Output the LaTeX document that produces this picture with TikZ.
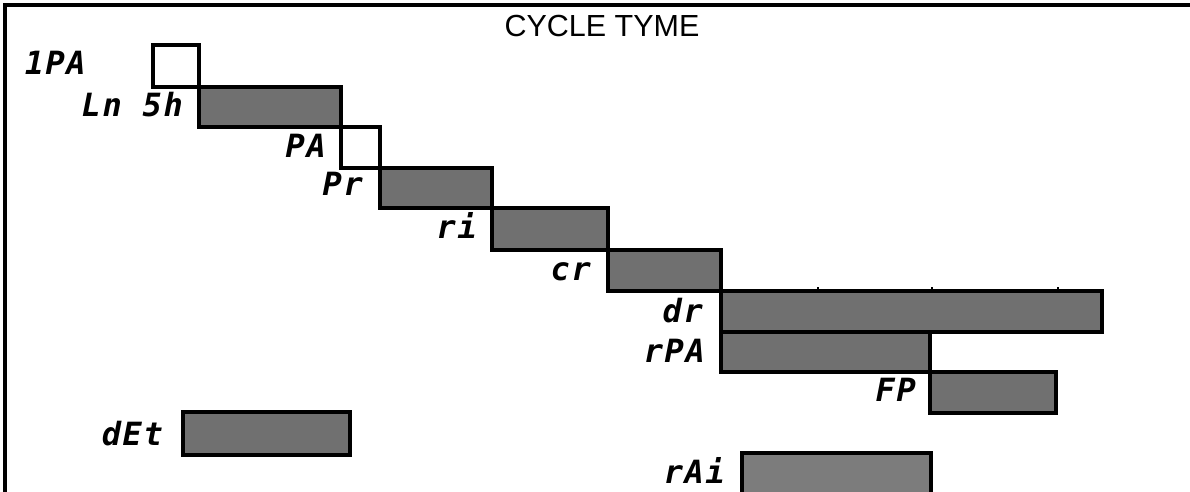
\documentclass[tikz,border=0pt]{standalone}
\usepackage{fontspec}
\setmainfont{Liberation Sans}
\newfontfamily\segfont[LetterSpace=5]{DejaVu Sans Mono}
\begin{document}
\begin{tikzpicture}[x=1pt,y=-1pt,
  frame/.style={line width=4.5pt,line cap=rect},
  barline/.style={line width=4pt,line join=miter},
  openbar/.style={barline,fill=white},
  fullbar/.style={barline,fill=barfill},
  seglabel/.style={anchor=base east,inner sep=0pt,font=\segfont\bfseries\itshape\fontsize{32}{32}\selectfont},
  titlelabel/.style={anchor=base,inner sep=0pt,font=\fontsize{30.5}{30.5}\selectfont}]
\definecolor{barfill}{HTML}{707070}
\definecolor{barfilltwo}{HTML}{7C7C7C}
\useasboundingbox (0,0) rectangle (1190,492);
\fill[white] (0,0) rectangle (1190,492);
% frame
\draw[frame] (5,492) -- (5,5) -- (1190,5);
% title
\node[titlelabel] (title) at (602,37) {CYCLE TYME};
% bars
\draw[openbar] (153,45) rectangle (199,87);
\draw[fullbar] (199,87) rectangle (341,127);
\draw[openbar] (341,127) rectangle (380,168);
\draw[fullbar] (380,168) rectangle (492,208);
\draw[fullbar] (492,208) rectangle (608,250);
\draw[fullbar] (608,250) rectangle (721,291);
\draw[fullbar] (721,291) rectangle (1102,332);
\draw[fullbar] (721,332) rectangle (930,372);
\draw[fullbar] (930,372) rectangle (1056,413);
\draw[fullbar] (183,412) rectangle (350,455);
\draw[barline,fill=barfilltwo] (742,453) rectangle (931,500);
% ticks on dr bar
\foreach \tx in {818,932,1058} \draw[line width=1.5pt] (\tx,287) -- (\tx,291);
% labels
\node[seglabel] (lIPA) at (86,75) {1PA};
\node[seglabel] (lLnSh) at (183,117) {Ln 5h};
\node[seglabel] (lPA) at (326,157) {PA};
\node[seglabel] (lPr) at (363,195) {Pr};
\node[seglabel] (lri) at (477,238) {ri};
\node[seglabel] (lcr) at (591,280) {cr};
\node[seglabel] (ldr) at (703,322) {dr};
\node[seglabel] (lrPA) at (705,362) {rPA};
\node[seglabel] (lFP) at (916,401) {FP};
\node[seglabel] (ldEt) at (163,445) {dEt};
\node[seglabel] (lrAi) at (725,483) {rAi};
\end{tikzpicture}
\end{document}
